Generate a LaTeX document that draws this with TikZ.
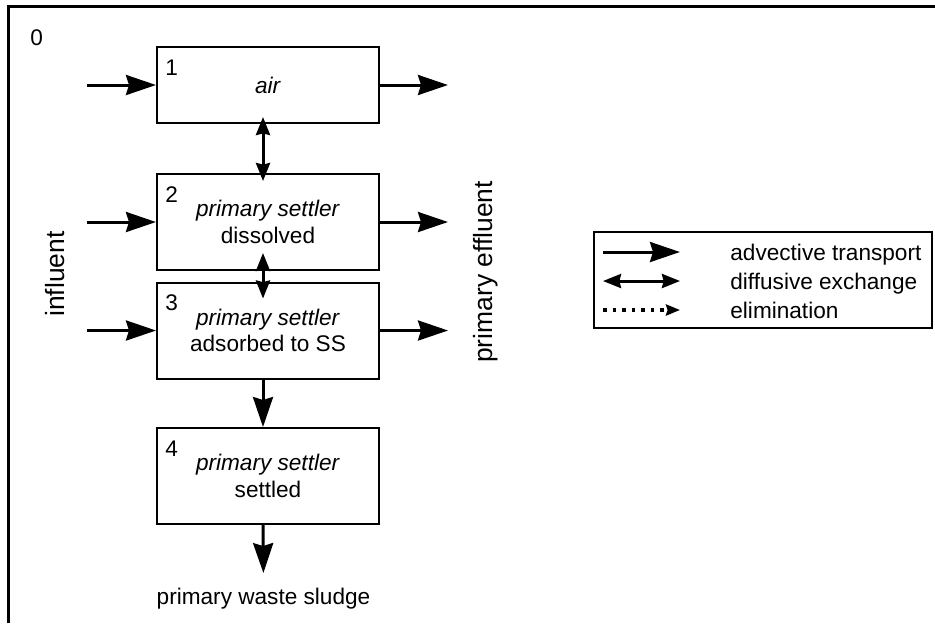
\documentclass[tikz,border=0pt]{standalone}
\usepackage{fontspec}
\setmainfont{Liberation Sans}
\usetikzlibrary{arrows.meta}
\begin{document}
\begin{tikzpicture}[x=0.5pt, y=-0.5pt,
    font=\fontsize{11.3}{13.4}\selectfont,
    every node/.style={inner sep=0pt},
    box/.style={draw, line width=1pt, minimum width=111pt, minimum height=48pt, align=center},
    num/.style={anchor=base west},
    side/.style={rotate=90, font=\fontsize{13.2}{15}\selectfont},
    adv/.style={line width=1.5pt, -{Stealth[length=15pt, width=10pt, inset=1.5pt]}},
    diff/.style={line width=1.5pt, {Stealth[length=9pt, width=7pt, inset=0.8pt]}-{Stealth[length=9pt, width=7pt, inset=0.8pt]}},
    elim/.style={line width=1.8pt, dash pattern=on 1.9pt off 2.85pt, -{Stealth[length=7pt, width=5.5pt, inset=0.8pt]}}]
  \useasboundingbox (0,0) rectangle (935,623);
  \draw[line width=1.5pt] (8,623) -- (8,6) -- (935,6);
  \node[num] (n0) at (30,45) {0};

  % compartments
  \node[box, minimum height=38pt] (b1) at (268,85) {\textit{air}};
  \node[box] (b2) at (268,222) {\textit{primary settler}\\dissolved};
  \node[box] (b3) at (268,330.5) {\textit{primary settler}\\adsorbed to SS};
  \node[box] (b4) at (268,476) {\textit{primary settler}\\settled};
  \foreach \i in {1,...,4}
    \node[num] (n\i) at ([xshift=4.5pt, yshift=-14.5pt]b\i.north west) {\i};

  % influent and effluent
  \foreach \i in {1,2,3} {
    \coordinate (in\i) at ([xshift=-34.5pt]b\i.west);
    \coordinate (out\i) at ([xshift=34pt]b\i.east);
    \draw[adv] (in\i) -- (b\i.west);
    \draw[adv] (b\i.east) -- (out\i);
  }
  \node[side] (infl) at (55,274) {influent};
  \node[side] (effl) at (486,272) {primary effluent};

  % exchange between compartments
  \draw[diff, shorten <=-3.5pt, shorten >=-4pt] ([xshift=-2.5pt]b1.south) -- ([xshift=-2.5pt]b2.north);
  \draw[diff, shorten <=-9pt, shorten >=-8.5pt] ([xshift=-2.5pt]b2.south) -- ([xshift=-2.5pt]b3.north);
  \draw[adv] ([xshift=-2.5pt]b3.south) -- ([xshift=-2.5pt]b4.north);
  \node (sludge) at (263.5,599) {primary waste sludge};
  \draw[adv, shorten >=7.5pt] ([xshift=-2.5pt]b4.south) -- (sludge.north);

  % legend
  \node[draw, line width=1pt, minimum width=169pt, minimum height=48pt] (leg) at (763,280) {};
  \foreach \s/\t [count=\i] in {adv/advective transport, diff/diffusive exchange, elim/elimination} {
    \coordinate (ka\i) at (603,223+29*\i);
    \coordinate (kb\i) at (680,223+29*\i);
    \draw[\s] (ka\i) -- (kb\i);
    \node[anchor=base west] (kt\i) at (730,231+29*\i) {\t};
  }
\end{tikzpicture}
\end{document}
